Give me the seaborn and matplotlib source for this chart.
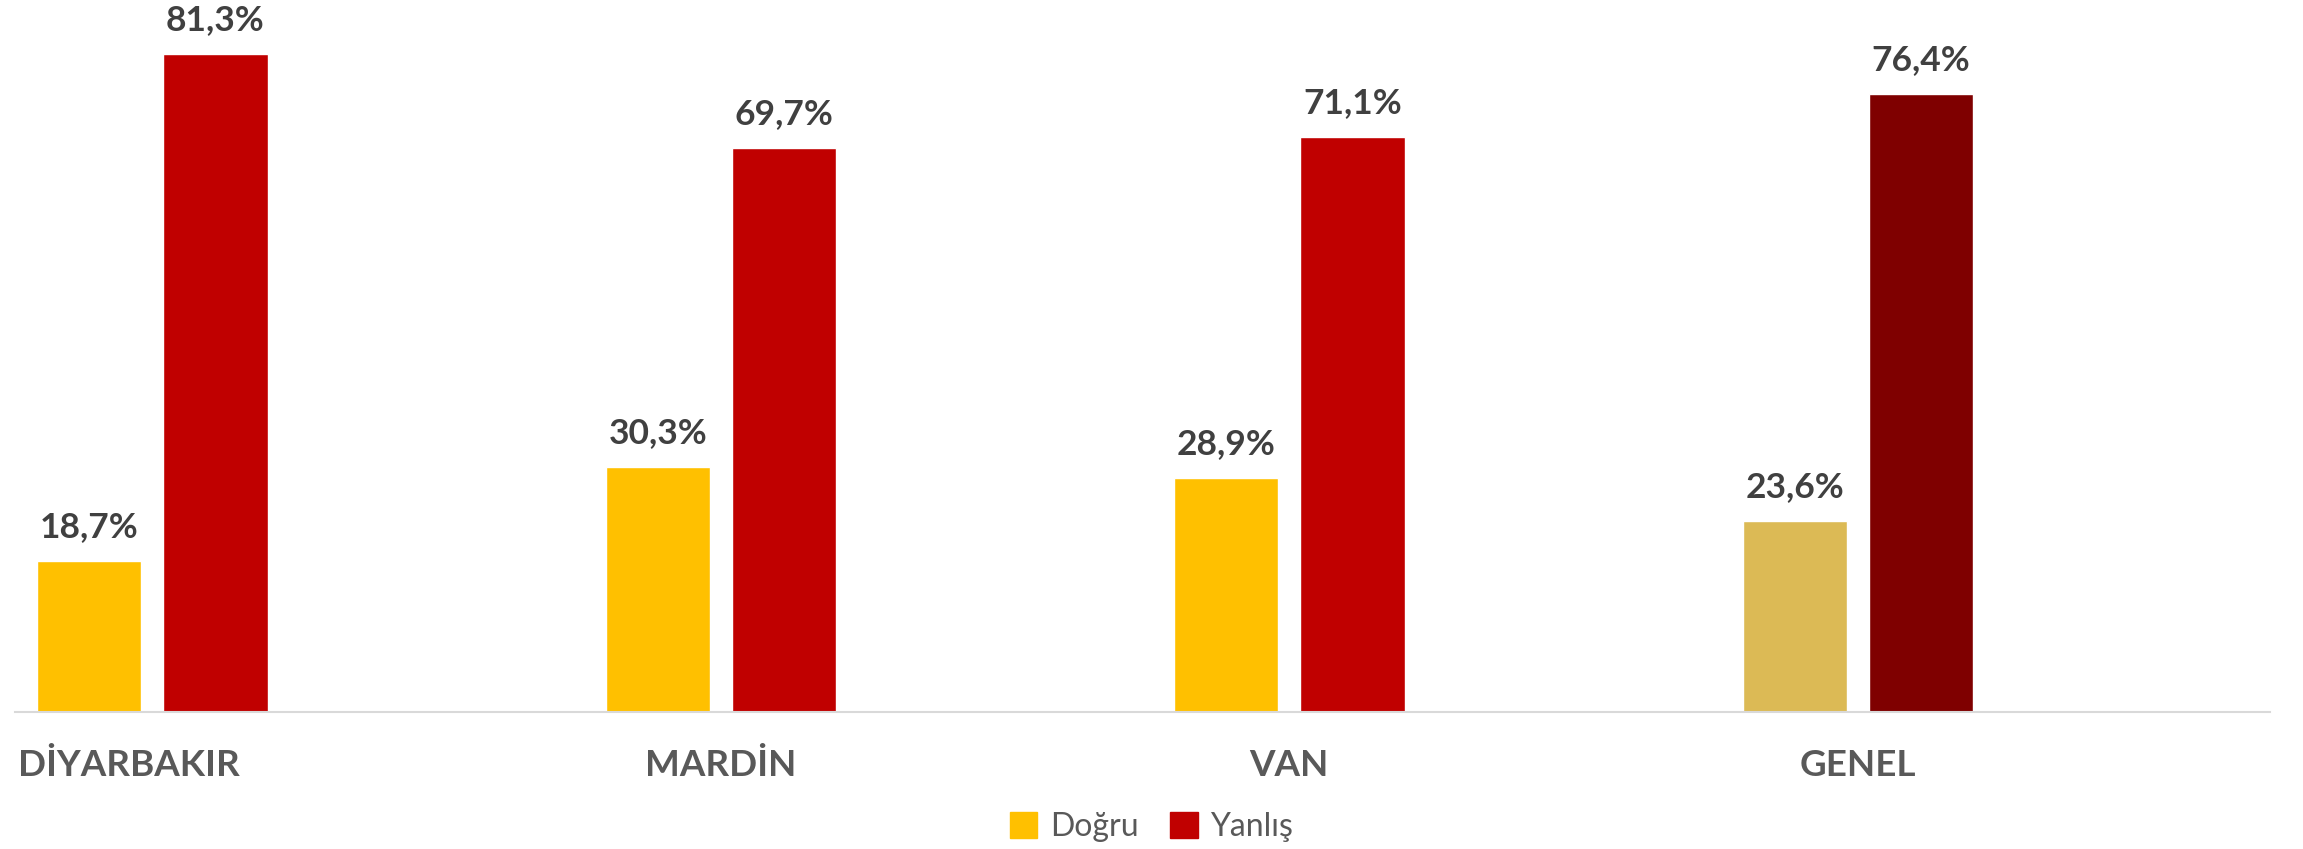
import pandas as pd
import matplotlib
matplotlib.use("Agg")
from matplotlib import pyplot as plt
from matplotlib.patches import Patch
import matplotlib.transforms as mtransforms
import seaborn as sns

cities = ["DİYARBAKIR", "MARDİN", "VAN", "GENEL"]
dogru = [18.7, 30.3, 28.9, 23.6]
yanlis = [81.3, 69.7, 71.1, 76.4]
series = ["Doğru", "Yanlış"]

df = pd.DataFrame({
    "city": cities * 2,
    "answer": [series[0]] * 4 + [series[1]] * 4,
    "value": dogru + yanlis,
})

sns.set_theme(style="white")
plt.rcParams["font.family"] = ["Lato", "DejaVu Sans"]

fig = plt.figure(figsize=(23.03, 8.49), dpi=100)
ax = fig.add_axes([0.0065, 0.1614, 0.9792, 0.8386])

sns.barplot(data=df, x="city", y="value", hue="answer", order=cities,
            hue_order=series, palette=["#FFC000", "#C00000"], saturation=1,
            width=0.444, gap=0.174, ax=ax, legend=False)

# the overall group has its own darker shades
ax.containers[0][3].set_facecolor("#DCBA55")
ax.containers[1][3].set_facecolor("#7F0000")

for cont in ax.containers:
    labels = [f"{b.get_height():.1f}%".replace(".", ",") for b in cont]
    ax.bar_label(cont, labels=labels, padding=13, fontsize=25.5,
                 fontweight="bold", color="#404040")

ax.set_ylim(0, 88)
ax.set_xlim(-0.2416, 3.725)
ax.set_xlabel("")
ax.set_ylabel("")
ax.set_yticks([])
for s in ["top", "right", "left"]:
    ax.spines[s].set_visible(False)
ax.spines["bottom"].set_color("#D9D9D9")
ax.spines["bottom"].set_linewidth(1.5)
ax.tick_params(axis="x", length=0, pad=27)
for lab in ax.get_xticklabels():
    lab.set_fontsize(26.5)
    lab.set_fontweight("bold")
    lab.set_color("#595959")
first = ax.get_xticklabels()[0]
first.set_transform(first.get_transform() +
                    mtransforms.ScaledTranslation(-0.23, 0, fig.dpi_scale_trans))

handles = [Patch(color="#FFC000", label="Doğru"), Patch(color="#C00000", label="Yanlış")]
leg = fig.legend(handles=handles, loc="center", bbox_to_anchor=(0.5, 0.026), ncol=2,
                 frameon=False, fontsize=23, handlelength=0.85, handleheight=0.85,
                 handletextpad=0.4, columnspacing=1.0)
for t in leg.get_texts():
    t.set_color("#595959")

fig.savefig("out.png", dpi=100)
